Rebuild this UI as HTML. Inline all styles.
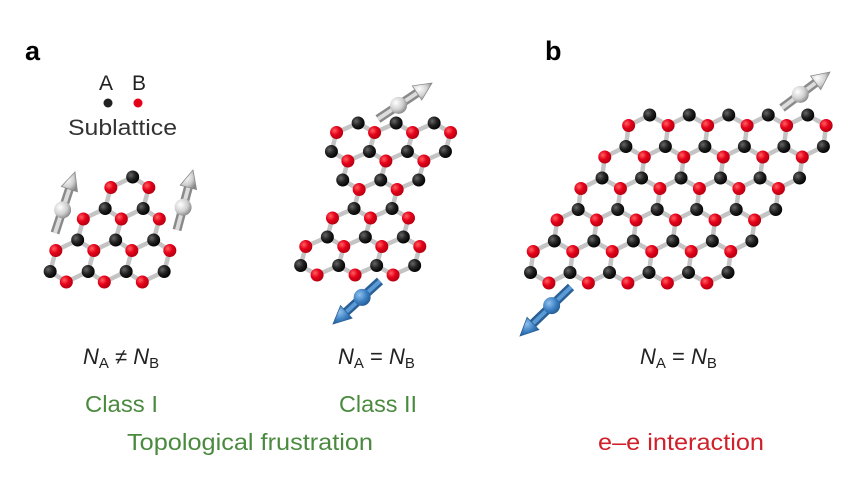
<!DOCTYPE html>
<html><head><meta charset="utf-8"><style>
html,body{margin:0;padding:0;background:#fff;}
svg{display:block;}
text{font-family:"Liberation Sans","DejaVu Sans",sans-serif;}
</style></head><body>
<svg id="s" width="850" height="481" viewBox="0 0 850 481" xmlns="http://www.w3.org/2000/svg">
<defs>
<radialGradient id="gk" cx="0.35" cy="0.35" r="0.7"><stop offset="0" stop-color="#666"/><stop offset="0.5" stop-color="#222"/><stop offset="1" stop-color="#000"/></radialGradient>
<radialGradient id="gr" cx="0.35" cy="0.35" r="0.7"><stop offset="0" stop-color="#ff6060"/><stop offset="0.5" stop-color="#e5001a"/><stop offset="1" stop-color="#b00010"/></radialGradient>
<radialGradient id="gw" cx="0.35" cy="0.35" r="0.7"><stop offset="0" stop-color="#ffffff"/><stop offset="0.6" stop-color="#cfcfcf"/><stop offset="1" stop-color="#888"/></radialGradient>
<radialGradient id="gb" cx="0.35" cy="0.35" r="0.7"><stop offset="0" stop-color="#8fc0ee"/><stop offset="0.6" stop-color="#3a7fc1"/><stop offset="1" stop-color="#245c94"/></radialGradient>
</defs>
<g id="lat"></g>
<g id="arr"></g>
<text x="25" y="60" font-size="27" font-weight="bold" fill="#000">a</text>
<text x="545" y="60" font-size="27" font-weight="bold" fill="#000">b</text>
<text x="99" y="90" font-size="21" fill="#222">A</text>
<text x="132" y="90" font-size="21" fill="#222">B</text>
<circle cx="108" cy="103" r="4.5" fill="#222"/>
<circle cx="138" cy="103" r="4.5" fill="#e5001a"/>
<text x="68" y="135" font-size="22.5" fill="#333" textLength="109" lengthAdjust="spacingAndGlyphs">Sublattice</text>
<g font-size="22" fill="#222">
<text x="83" y="364"><tspan font-style="italic">N</tspan><tspan font-size="15" dy="4">A</tspan><tspan dy="-4"> ≠ </tspan><tspan font-style="italic">N</tspan><tspan font-size="15" dy="4">B</tspan></text>
<text x="338" y="364"><tspan font-style="italic">N</tspan><tspan font-size="15" dy="4">A</tspan><tspan dy="-4"> = </tspan><tspan font-style="italic">N</tspan><tspan font-size="15" dy="4">B</tspan></text>
<text x="640" y="364"><tspan font-style="italic">N</tspan><tspan font-size="15" dy="4">A</tspan><tspan dy="-4"> = </tspan><tspan font-style="italic">N</tspan><tspan font-size="15" dy="4">B</tspan></text>
</g>
<g font-size="23" lengthAdjust="spacingAndGlyphs">
<text x="85" y="412" fill="#4a8a3e" textLength="73" lengthAdjust="spacingAndGlyphs">Class I</text>
<text x="339" y="412" fill="#4a8a3e" textLength="78" lengthAdjust="spacingAndGlyphs">Class II</text>
<text x="127" y="450" fill="#4a8a3e" textLength="246" lengthAdjust="spacingAndGlyphs">Topological frustration</text>
<text x="598" y="450" fill="#d0202a" textLength="166" lengthAdjust="spacingAndGlyphs">e–e interaction</text>
</g>
</svg>
<script>
var NS="http://www.w3.org/2000/svg";
var lat=document.getElementById("lat"),arr=document.getElementById("arr");
function el(p,t,a){var e=document.createElementNS(NS,t);for(var k in a)e.setAttribute(k,a[k]);p.appendChild(e);return e;}
function lattice(cx0,cy0,w,h,k,hexes){
  var g=el(lat,"g",{}),gb=el(g,"g",{stroke:"#c4c4c4","stroke-width":4.5,"stroke-linecap":"round"}),ga=el(g,"g",{});
  var atoms={},bonds={};
  var off=[[0,-h,0],[w/2,-h/2,1],[w/2,h/2,0],[0,h,1],[-w/2,h/2,0],[-w/2,-h/2,1]];
  hexes.forEach(function(hx){
    var cx=cx0+hx[0]*w/2,cy=cy0+hx[1]*1.5*h,pts=[];
    off.forEach(function(o){var x=cx+o[0],y=cy+o[1];var X=x+k*(y-cy0);var key=Math.round(X)+","+Math.round(y);
      atoms[key]=[X,y,o[2]];pts.push([X,y,key]);});
    for(var i=0;i<6;i++){var a=pts[i],b=pts[(i+1)%6];var kk=[a[2],b[2]].sort().join("|");bonds[kk]=[a,b];}
  });
  for(var b in bonds){var p=bonds[b];el(gb,"line",{x1:p[0][0],y1:p[0][1],x2:p[1][0],y2:p[1][1]});}
  var list=Object.keys(atoms).map(function(k){return atoms[k];}).sort(function(a,b){return a[1]-b[1];});
  list.forEach(function(a){el(ga,"circle",{cx:a[0],cy:a[1],r:6.5,fill:a[2]?"url(#gr)":"url(#gk)"});});
}
lattice(127,198,38,21,-0.27,[[0,0],[-1,1],[1,1],[-2,2],[0,2],[2,2]]);
lattice(353,142,38,19,-0.27,[[0,0],[2,0],[4,0],[1,1],[3,1],[2,2],[1,3],[3,3],[0,4],[2,4],[4,4]]);
var hb=[];for(var j=0;j<5;j++)for(var i=0;i<5;i++)hb.push([2*i-j,j]);
lattice(647,136,39.5,21,-0.13,hb);
function arrow(tx,ty,px,py,blue){
  var dx=px-tx,dy=py-ty,L=Math.hypot(dx,dy),ux=dx/L,uy=dy/L,nx=-uy,ny=ux;
  var hl=18,hw=8.5,bx=px-ux*hl,by=py-uy*hl;
  var cd=blue?"#2a5f96":"#8a8a8a";
  el(arr,"line",{x1:tx,y1:ty,x2:bx,y2:by,stroke:cd,"stroke-width":9});
  el(arr,"line",{x1:tx,y1:ty,x2:bx,y2:by,stroke:blue?"#5a9ad6":"#dcdcdc","stroke-width":4});
  el(arr,"polygon",{points:[px,py,bx+nx*hw,by+ny*hw,bx-nx*hw,by-ny*hw].join(","),fill:blue?"url(#gb)":"url(#gw)",stroke:cd,"stroke-width":0.8});
  var sx=tx+dx*0.38,sy=ty+dy*0.38;
  el(arr,"circle",{cx:sx,cy:sy,r:8.5,fill:blue?"url(#gb)":"url(#gw)"});
}
arrow(55,233,75,172,false);
arrow(177,230,193,170,false);
arrow(378,119,432,83,false);
arrow(380,281,333,324,true);
arrow(782,108,830,72,false);
arrow(571,287,520,336,true);
</script>
</body></html>
